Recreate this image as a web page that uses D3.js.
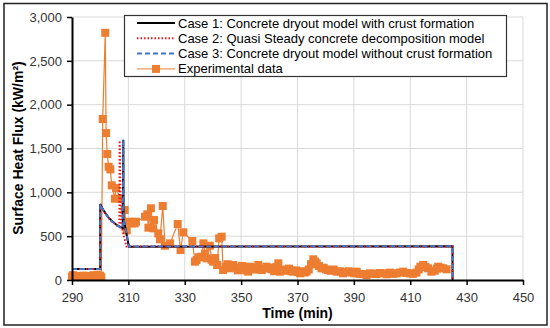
<!DOCTYPE html>
<html><head><meta charset="utf-8">
<script src="https://cdn.jsdelivr.net/npm/d3@7"></script>
<style>body{margin:0;background:#fff;} text{font-family:"Liberation Sans",Arial,sans-serif;}</style>
</head><body>
<svg id="chart" width="550" height="328"></svg>
<script>
const xTicks = [290,310,330,350,370,390,410,430,450];
const yTicks = [0,500,1000,1500,2000,2500,3000];
const seriesNames = ["Case 1: Concrete dryout model with crust formation","Case 2: Quasi Steady concrete decomposition model","Case 3: Concrete dryout model without crust formation","Experimental data"];

const case1 = [[290,125],[300,125],[300,867],[300.5,835],[301,805],[302,755],[303,712],[304,678],[305,650],[306,625],[307,606],[308,592],[308.2,1600],[308.3,700],[310.2,380],[425,385],[425,0]];
const case2 = [[290,125],[300,125],[300,860],[300.5,830],[301,800],[302,750],[303,708],[304,672],[305,645],[306,620],[306.8,605],[306.9,1590],[307.4,640],[309.3,382],[425,382],[425,0]];
const case3 = [[290,125],[300,125],[300,865],[300.5,832],[301,802],[302,752],[303,710],[304,675],[305,648],[306,622],[307,604],[308,590],[308.2,1600],[308.3,700],[310.2,382],[425,385],[425,0]];
const expT = [290,290.4,290.8,291.2,291.6,292,292.4,292.8,293.2,293.6,294,294.4,294.8,295.2,295.6,296,296.4,296.8,297.2,297.6,298,298.4,298.8,299.2,299.6,300,300.4,
 300.9,301.8,302.1,302.5,303,303.6,304.1,305.2,305.6,307.1,308.7,309.4,310.5,311.2,312.2,312.7,315.9,316.7,317.1,318,318.8,319.1,320.6,321.2,322.2,323,324.8,327.5,328.5,329.5,
 332.7,333.6,334.2,335,336,336.6,337.2,337.8,338.9,339.5,340.1,340.8,341.5,342.2,343.1,343.6,344.5,345.2,345.8,346.5,347.2,348,348.8,349.6,350.3,351,351.8,352.5,353.1,354,355,
 356.1,357.3,358.2,359,360,360.8,361.7,362.5,363.2,363.8,364.7,365.4,366.1,367,367.8,368.5,369.5,370.2,370.9,371.8,372.5,373.2,374,374.8,375.6,376.2,376.8,377.6,378.5,379.3,
 380.1,380.9,381.8,382.8,383.9,385,386.2,387.3,388.2,389.2,390.2,391,392,393.3,394.5,395.7,396.8,398,399.2,400.4,401.6,402.8,404,405.1,406.3,407.5,408.7,409.9,411,412.2,
 413,413.6,414.6,415.4,416.3,417.5,418.7,419.4,419.9,420.8,421.7,422.9];
const expV = [40,55,25,35,15,45,30,20,40,25,50,30,15,35,45,25,30,20,40,55,30,45,25,60,35,50,30,
 1836,2820,1676,1437,1292,1262,1080,927,1049,927,798,566,665,646,646,665,722,749,597,818,589,684,532,464,844,391,418,639,342,544,
 445,209,228,260,266,418,300,247,391,230,209,250,171,475,494,114,150,180,133,150,171,140,110,122,160,133,110,95,152,140,120,
 171,114,130,152,140,122,100,150,190,95,120,105,114,130,100,95,110,90,76,100,85,95,120,180,236,210,190,160,133,140,
 120,114,105,120,95,100,76,90,100,84,76,95,70,68,55,76,70,68,80,76,65,84,70,76,85,95,80,76,70,84,
 120,152,171,150,133,95,106,130,152,140,133,122];

const svg = d3.select("#chart");
const m = {l:72, r:523, t:17, b:280};
const x = d3.scaleLinear().domain([290,450]).range([m.l,m.r]);
const y = d3.scaleLinear().domain([0,3000]).range([m.b,m.t]);

svg.append("rect").attr("x",4).attr("y",3.5).attr("width",543).attr("height",321.5)
  .attr("fill","none").attr("stroke","#222").attr("stroke-width",1.5);

svg.append("g").selectAll("line").data(xTicks.slice(1)).join("line")
  .attr("x1",d=>x(d)).attr("x2",d=>x(d)).attr("y1",m.t).attr("y2",m.b)
  .attr("stroke","#d9d9d9").attr("stroke-width",1);
svg.append("g").selectAll("line").data(yTicks.slice(1)).join("line")
  .attr("x1",m.l).attr("x2",m.r).attr("y1",d=>y(d)).attr("y2",d=>y(d))
  .attr("stroke","#d9d9d9").attr("stroke-width",1);

const line = d3.line().x(d=>x(d[0])).y(d=>y(d[1]));
svg.append("clipPath").attr("id","cp").append("rect")
  .attr("x",m.l-6).attr("y",0).attr("width",m.r-m.l+6).attr("height",m.b+1);
const plot = svg.append("g").attr("clip-path","url(#cp)");

const expData = expT.map((t,i)=>[t,expV[i]]);
plot.append("path").datum(expData).attr("d",line).attr("fill","none")
  .attr("stroke","#ED7D31").attr("stroke-width",1.2);
plot.append("g").selectAll("rect").data(expData).join("rect")
  .attr("x",d=>x(d[0])-4).attr("y",d=>y(d[1])-4).attr("width",8).attr("height",8)
  .attr("fill","#ED7D31");

const lines = svg.append("g");
lines.append("path").datum(case1).attr("d",line).attr("fill","none")
  .attr("stroke","#000").attr("stroke-width",2);
lines.append("path").datum(case2).attr("d",line).attr("fill","none")
  .attr("stroke","#E8141C").attr("stroke-width",2).attr("stroke-dasharray","1.5,2");
lines.append("path").datum(case3).attr("d",line).attr("fill","none")
  .attr("stroke","#4472C4").attr("stroke-width",2).attr("stroke-dasharray","5,3");

const xAxis = d3.axisBottom(x).tickValues(xTicks).tickSize(5).tickSizeOuter(0).tickFormat(d3.format("d"));
const gx = svg.append("g").attr("transform",`translate(0,${m.b})`).call(xAxis);
const yAxis = d3.axisLeft(y).tickValues(yTicks).tickSize(5).tickSizeOuter(0).tickFormat(d3.format(","));
const gy = svg.append("g").attr("transform",`translate(${m.l},0)`).call(yAxis);
[gx,gy].forEach(g=>{
  g.select(".domain").attr("stroke","#000").attr("stroke-width",2);
  g.selectAll(".tick line").attr("stroke","#000").attr("stroke-width",1.5);
  g.selectAll(".tick text").attr("fill","#333").attr("font-size",13)
   .attr("font-family","'Liberation Sans',Arial,sans-serif");
});
gx.selectAll(".tick text").attr("dy","1.05em");
gy.selectAll(".tick text").attr("x",-10);

svg.append("text").attr("x",(m.l+m.r)/2).attr("y",318).attr("text-anchor","middle")
  .attr("font-size",14).attr("font-weight","bold").attr("fill","#000").text("Time (min)");
svg.append("text").attr("transform","translate(23,148) rotate(-90)").attr("text-anchor","middle")
  .attr("font-size",14).attr("font-weight","bold").attr("fill","#000").text("Surface Heat Flux (kW/m²)");

const lg = svg.append("g");
lg.append("rect").attr("x",124.5).attr("y",15.5).attr("width",382).attr("height",61)
  .attr("fill","#fff").attr("stroke","#333").attr("stroke-width",1.2);
const styles = [
  {stroke:"#000", dash:null},
  {stroke:"#E8141C", dash:"1.5,2"},
  {stroke:"#4472C4", dash:"5,3"},
  {stroke:"#ED7D31", dash:null}
];
seriesNames.forEach((n,i)=>{
  const cy = 23 + i*15.3;
  lg.append("line").attr("x1",137).attr("x2",175).attr("y1",cy).attr("y2",cy)
    .attr("stroke",styles[i].stroke).attr("stroke-width",i===3?1:2)
    .attr("stroke-dasharray",styles[i].dash);
  if(i===3) lg.append("rect").attr("x",152).attr("y",cy-4).attr("width",8).attr("height",8).attr("fill","#ED7D31");
  lg.append("text").attr("x",178).attr("y",cy+4.5).attr("font-size",13).attr("fill","#000").text(n);
});
</script>
</body></html>
